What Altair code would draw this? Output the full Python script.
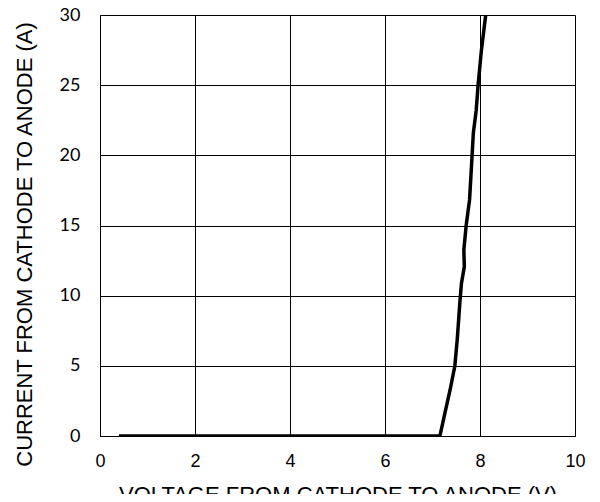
import altair as alt
import pandas as pd

voltage = [0.40, 1.5, 3.0, 4.5, 6.0, 7.15, 7.16, 7.26, 7.37, 7.47, 7.52, 7.58, 7.61, 7.67, 7.66, 7.71,
           7.78, 7.82, 7.86, 7.92, 7.96, 8.03, 8.12]
current = [0.0, 0.0, 0.0, 0.0, 0.0, 0.0, 0.07, 1.62, 3.28, 4.99, 6.84, 9.70, 10.88, 12.07, 13.26, 15.04,
           16.82, 19.2, 21.6, 23.2, 25.0, 27.5, 30.0]
order = list(range(len(voltage)))

x_ticks = [0, 2, 4, 6, 8, 10]
y_ticks = [0, 5, 10, 15, 20, 25, 30]

df = pd.DataFrame({"v": voltage, "i": current, "o": order})

chart = alt.Chart(df).mark_line(color="black", strokeWidth=3.5, clip=True).encode(
    x=alt.X("v:Q", scale=alt.Scale(domain=[0, 10], nice=False),
            axis=alt.Axis(values=x_ticks, title="VOLTAGE FROM CATHODE TO ANODE (V)",
                          labelFont="Liberation Sans", labelFontSize=18, labelColor="black",
                          labelPadding=16, labelFlush=False, ticks=False, domainColor="black",
                          gridColor="black", gridWidth=1, gridOpacity=1,
                          titleFont="Liberation Sans", titleFontSize=22, titleFontWeight="normal",
                          titleColor="black", titleY=48, titleBaseline="top")),
    y=alt.Y("i:Q", scale=alt.Scale(domain=[0, 30], nice=False),
            axis=alt.Axis(values=y_ticks, title="CURRENT FROM CATHODE TO ANODE (A)",
                          labelFont="Lato", labelFontSize=18, labelColor="black",
                          labelPadding=20, labelFlush=False, ticks=False, domainColor="black",
                          gridColor="black", gridWidth=1, gridOpacity=1,
                          titleFont="Liberation Sans", titleFontSize=22, titleFontWeight="normal",
                          titleColor="black", titleX=-76, titleY=229, titleBaseline="middle",
                          titleAngle=270)),
    order="o:Q",
).properties(
    width=475, height=421,
    autosize=alt.AutoSizeParams(type="none"),
    padding={"left": 92, "top": 7, "right": 17, "bottom": 58},
).configure_view(stroke="black", strokeWidth=1).configure(background="white")

chart.save("out.html", embed_options={"renderer": "svg", "actions": False})
